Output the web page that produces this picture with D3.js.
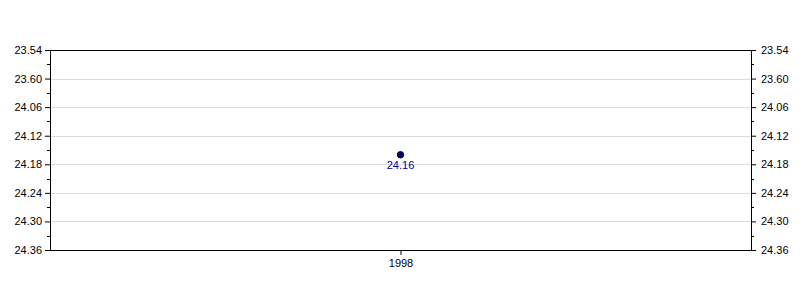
<!DOCTYPE html>
<html>
<head>
<meta charset="utf-8">
<script src="https://cdn.jsdelivr.net/npm/d3@7"></script>
<style>
  body { margin: 0; background: #fff; }
  text { font-family: "Liberation Sans", Arial, sans-serif; font-size: 11px; }
</style>
</head>
<body>
<div id="canvas"></div>
<script>
// values are times written as min.sec
const years = ["1998"];
const values = [24.16];
const yTickLabels = ["23.54", "23.60", "24.06", "24.12", "24.18", "24.24", "24.30", "24.36"];

// 24.16 -> 24 min 16 s -> seconds
const toSec = v => {
    const m = Math.floor(+v + 1e-9);
    return m * 60 + Math.round((+v - m) * 100);
};

const margin = { top: 50, right: 49, bottom: 50, left: 50 },
    width = 800 - margin.left - margin.right,
    height = 300 - margin.top - margin.bottom;

const svg = d3.select("#canvas")
    .append("svg")
    .attr("width", width + margin.left + margin.right)
    .attr("height", height + margin.top + margin.bottom)
    .append("g")
    .attr("transform", `translate(${margin.left},${margin.top})`);

const tickSecs = yTickLabels.map(toSec);

const x = d3.scalePoint()
    .domain(years)
    .range([0, width])
    .padding(0.5);

// inverted: smallest time at the top
const y = d3.scaleLinear()
    .domain([d3.min(tickSecs), d3.max(tickSecs)])
    .range([0, height]);

const minorSecs = tickSecs.slice(1).map((s, i) => (s + tickSecs[i]) / 2);

// Grid lines
svg.append("g")
    .selectAll("line")
    .data(tickSecs.slice(1, -1))
    .join("line")
    .attr("x1", 0)
    .attr("x2", width)
    .attr("y1", d => Math.round(y(d)) + 0.5)
    .attr("y2", d => Math.round(y(d)) + 0.5)
    .attr("stroke", "#dcdcdc");

// Axes
const labelFor = d => yTickLabels[tickSecs.indexOf(d)];

const drawY = (axis, tx, pad) => {
    const g = svg.append("g")
        .attr("transform", `translate(${tx},0)`)
        .call(axis.tickValues(tickSecs).tickFormat(labelFor).tickSize(5).tickPadding(pad));
    g.select(".domain").remove();
    g.selectAll("text").style("font-size", "11px").attr("fill", "#000");
    g.selectAll("line").attr("stroke", "#000");
    return g;
};
drawY(d3.axisLeft(y), 0, 3);
drawY(d3.axisRight(y), width, 5);

// minor ticks
[[0, -3], [width, 3]].forEach(([x0, len]) => {
    svg.append("g")
        .selectAll("line")
        .data(minorSecs)
        .join("line")
        .attr("x1", x0)
        .attr("x2", x0 + len)
        .attr("y1", d => Math.round(y(d)) + 0.5)
        .attr("y2", d => Math.round(y(d)) + 0.5)
        .attr("stroke", "#000");
});

const xAxis = svg.append("g")
    .attr("transform", `translate(0,${height})`)
    .call(d3.axisBottom(x).tickSize(5).tickPadding(4));
xAxis.select(".domain").remove();
xAxis.selectAll("text").style("font-size", "11px").attr("fill", "#000");

// Frame
svg.append("rect")
    .attr("x", 0.5)
    .attr("y", 0.5)
    .attr("width", width)
    .attr("height", height)
    .attr("fill", "none")
    .attr("stroke", "#000");

// Points
svg.append("g")
    .selectAll("g")
    .data(values.map((v, i) => ({ year: years[i], v })))
    .join("g")
    .attr("transform", d => `translate(${x(d.year)},${y(toSec(d.v))})`)
    .call(g => {
        g.append("circle")
            .attr("r", 3.3)
            .attr("fill", "#000080")
            .attr("stroke", "#000")
            .attr("stroke-width", 0.8);
        g.append("text")
            .attr("y", 14)
            .attr("text-anchor", "middle")
            .attr("fill", "#0000a0")
            .text(d => d.v.toFixed(2));
    });
</script>
</body>
</html>
